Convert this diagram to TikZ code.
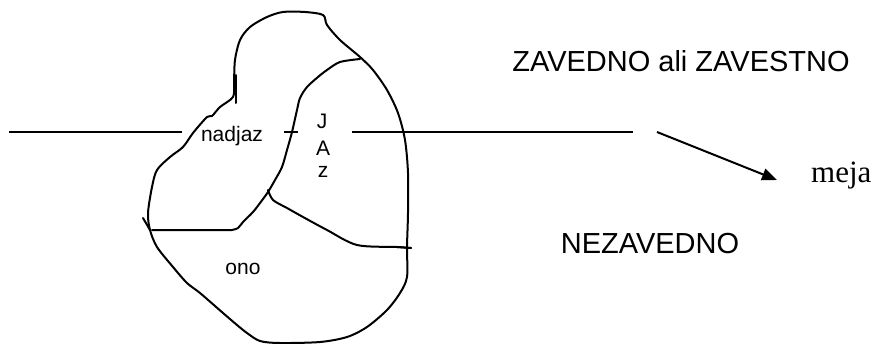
\documentclass[tikz,border=0pt]{standalone}
\usepackage{fontspec}
\setmainfont{Liberation Sans}
\newfontfamily\serifface{Liberation Serif}
\usetikzlibrary{arrows.meta}
\begin{document}
\begin{tikzpicture}[x=1pt,y=-1pt,
  ink/.style={line width=2pt,line join=round,line cap=round},
  big/.style={font=\fontsize{29}{32}\selectfont,inner sep=0pt,anchor=base},
  small/.style={font=\fontsize{21}{24}\selectfont,inner sep=0pt,anchor=base}]
\useasboundingbox (0,0) rectangle (874,343);

% outer outline of the psyche
\draw[ink] plot[smooth cycle,tension=0.5] coordinates {
  (283,12) (305,12) (323,15) (327,25) (340,40) (360,57) (373,70) (387,90)
  (398,113) (405,140) (408,173) (408,213) (407,247) (407,277) (400,293)
  (387,310) (367,327) (347,337) (320,342) (280,343) (260,341) (247,333)
  (237,325) (223,313) (200,293) (187,283) (173,267) (157,247) (150,230)
  (148,213) (152,187) (157,170) (170,157) (183,147) (193,133) (207,117)
  (212,116) (220,107) (233,97) (234,83) (235,60) (240,40) (250,27) (267,17)};

% hand-drawn stubs
\draw[ink] (236,75) -- (236,103);
\draw[ink] (143,218) -- (150,230);
\draw[ink] (397,247) -- (411,248);

% border of the ego
\draw[ink] plot[smooth,tension=0.5] coordinates {
  (360,59) (340,62) (327,70) (318,77) (307,87) (300,98) (297,110) (292,132)
  (287,150) (282,167) (275,180) (268,192) (260,203) (253,212) (243,222)
  (238,228) (232,230)} -- (152,230);
\draw[ink] plot[smooth,tension=0.5] coordinates {
  (268,190) (273,200) (287,208) (303,217) (327,230) (357,245) (397,247) (411,248)};

% the line between conscious and unconscious
\coordinate (l1) at (9,131.5);
\coordinate (l2) at (182,131.5);
\coordinate (m1) at (284,131.5);
\coordinate (m2) at (298,131.5);
\coordinate (r1) at (352,131.5);
\coordinate (r2) at (633,131.5);
\draw[ink,line cap=butt] (l1) -- (l2);
\draw[ink,line cap=butt] (m1) -- (m2);
\draw[ink,line cap=butt] (r1) -- (r2);

% labels
\node[small] (nadjaz) at (232,141.5) {nadjaz};
\node[small] (J) at (322,128.5) {J};
\node[small] (A) at (323,155) {A};
\node[small] (z) at (323,177) {z};
\node[small] (ono) at (243,274) {ono};
\node[big] (zav) at (681,71.7) {ZAVEDNO ali ZAVESTNO};
\node[big] (nez) at (650,253.3) {NEZAVEDNO};
\node[font=\serifface\fontsize{31}{35}\selectfont,inner sep=0pt,anchor=base west] (meja) at (811,182) {meja};

% arrow to the boundary label
\coordinate (a0) at (657,132);
\coordinate (a1) at (777,180);
\draw[line width=2pt,-{Triangle[length=15pt,width=12pt]}] (a0) -- (a1);
\end{tikzpicture}
\end{document}
